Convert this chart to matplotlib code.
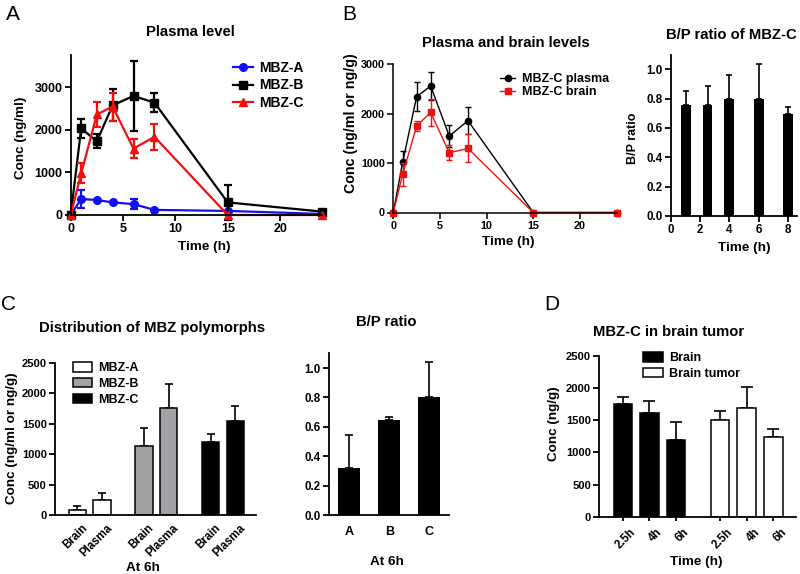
import numpy as np
import matplotlib
matplotlib.use('Agg')
import matplotlib.pyplot as plt
import matplotlib.transforms as mtrans
from matplotlib.patches import Patch

plt.rcParams['font.family'] = ['Liberation Sans', 'DejaVu Sans']
plt.rcParams['font.weight'] = 'bold'
plt.rcParams['axes.labelweight'] = 'bold'
plt.rcParams['axes.titleweight'] = 'bold'

# --- A: plasma level of the three polymorphs
time_a = [0, 1, 2.5, 4, 6, 8, 15, 24]
mbz_a = [0, 376, 352, 296, 256, 120, 96, 25]
mbz_a_sd = [0, 200, 0, 0, 110, 0, 0, 0]
mbz_b = [0, 2033, 1733, 2577, 2797, 2640, 296, 80]
mbz_b_sd = [0, 213, 170, 378, 820, 225, 416, 0]
mbz_c = [0, 976, 2364, 2546, 1560, 1837, 0, 0]
mbz_c_sd = [0, 235, 300, 330, 225, 310, 0, 0]

# --- B: MBZ-C plasma vs brain
time_b = [0, 1, 2.5, 4, 6, 8, 15, 24]
plasma_b = [0, 1014, 2345, 2561, 1547, 1858, 0, 0]
plasma_b_sd = [0, 229, 300, 290, 223, 277, 0, 0]
brain_b = [0, 770, 1750, 2027, 1209, 1297, 0, 0]
brain_b_sd = [0, 230, 100, 275, 150, 283, 0, 0]

bp_time = [1, 2.5, 4, 6, 8]
bp_ratio = [0.757, 0.757, 0.798, 0.798, 0.695]
bp_sd = [0.095, 0.132, 0.161, 0.236, 0.05]

# --- C: distribution at 6h
dist_labels = ['Brain', 'Plasma']
dist_a = [82, 246]
dist_a_sd = [66, 110]
dist_b = [1138, 1750]
dist_b_sd = [295, 400]
dist_c = [1193, 1548]
dist_c_sd = [142, 241]

ratio_labels = ['A', 'B', 'C']
ratio_6h = [0.3235, 0.649, 0.805]
ratio_6h_sd = [0.2215, 0.021, 0.233]

# --- D: brain tumor
tumor_labels = ['2.5h', '4h', '6h']
brain_d = [1753, 1618, 1198]
brain_d_sd = [104, 182, 280]
tumor_d = [1504, 1696, 1234]
tumor_d_sd = [145, 327, 130]

W, H = 800, 574


def rect(left, top, right, bottom):
    return [left / W, 1 - bottom / H, (right - left) / W, (bottom - top) / H]


def fxy(x, y):
    return (x / W, 1 - y / H)


def style_axes(ax, tick_size=8.5, lw=1.3):
    for s in ['top', 'right']:
        ax.spines[s].set_visible(False)
    for s in ['left', 'bottom']:
        ax.spines[s].set_linewidth(lw)
    ax.tick_params(direction='out', length=4, width=lw, labelsize=tick_size, pad=2)


def place_labels(ax, xlabel, xl_pos, ylabel, yl_pos, size=9.7, ysize=None):
    ax.set_xlabel(xlabel, fontsize=size)
    ax.set_ylabel(ylabel, fontsize=ysize or size)
    ax.xaxis.set_label_coords(*fxy(*xl_pos), transform=fig.transFigure)
    ax.yaxis.set_label_coords(*fxy(*yl_pos), transform=fig.transFigure)
    ax.xaxis.label.set_va('center')
    ax.yaxis.label.set_va('center')


def shift_ticklabels(ax, dx_px):
    off = mtrans.ScaledTranslation(dx_px / 100, 0, fig.dpi_scale_trans)
    for lab in ax.get_xticklabels():
        lab.set_transform(lab.get_transform() + off)


def line_with_err(ax, x, y, sd, color, marker, ms, lw, cap, label):
    x = np.array(x)
    y = np.array(y)
    sd = np.array(sd)
    m = sd > 0
    ax.errorbar(x[m], y[m], yerr=sd[m], fmt='none', ecolor=color, elinewidth=lw,
                capsize=cap, capthick=lw, clip_on=False)
    ax.plot(x, y, color=color, marker=marker, ms=ms, lw=lw, label=label, clip_on=False)


def up_err(ax, x, y, sd, cap, lw=1.2):
    ax.errorbar(x, y, yerr=[np.zeros(len(sd)), sd], fmt='none', ecolor='black',
                elinewidth=lw, capsize=cap, capthick=lw, zorder=1)


fig = plt.figure(figsize=(8, 5.74), dpi=100)

# ---------------- Panel A
ax = fig.add_axes(rect(70.7, 55, 322, 215))
line_with_err(ax, time_a, mbz_a, mbz_a_sd, '#1010f0', 'o', 5.5, 1.6, 3, 'MBZ-A')
line_with_err(ax, time_a, mbz_b, mbz_b_sd, 'black', 's', 5.5, 1.6, 3, 'MBZ-B')
line_with_err(ax, time_a, mbz_c, mbz_c_sd, '#f01010', '^', 5.5, 1.6, 3, 'MBZ-C')
ax.set_xlim(0, 24)
ax.set_ylim(0, 3760)
ax.set_xticks([0, 5, 10, 15, 20])
ax.set_yticks([0, 1000, 2000, 3000])
style_axes(ax, 9)
place_labels(ax, 'Time (h)', (204, 247), 'Conc (ng/ml)', (21, 138))
ax.legend(loc='upper left', bbox_to_anchor=fxy(233, 61), bbox_transform=fig.transFigure,
          frameon=False, borderpad=0, borderaxespad=0, handlelength=1.45,
          handletextpad=0.4, labelspacing=0.25, fontsize=10)
fig.text(*fxy(190, 32), 'Plasma level', ha='center', va='center', fontsize=10.7)

# ---------------- Panel B left
ax = fig.add_axes(rect(393.3, 64.3, 617.3, 212.5))
line_with_err(ax, time_b, plasma_b, plasma_b_sd, 'black', 'o', 4.5, 1.0, 2.5, 'MBZ-C plasma')
line_with_err(ax, time_b, brain_b, brain_b_sd, '#f01010', 's', 4.5, 1.0, 2.5, 'MBZ-C brain')
ax.set_xlim(0, 24)
ax.set_ylim(0, 3000)
ax.set_xticks([0, 5, 10, 15, 20])
ax.set_yticks([0, 1000, 2000, 3000])
style_axes(ax, 7.8, 1.1)
place_labels(ax, 'Time (h)', (508, 242), 'Conc (ng/ml or ng/g)', (351, 123), ysize=10.3)
ax.legend(loc='upper left', bbox_to_anchor=fxy(500, 73), bbox_transform=fig.transFigure,
          frameon=False, borderpad=0, borderaxespad=0, handlelength=1.2,
          handletextpad=0.6, labelspacing=0.1, fontsize=9)
fig.text(*fxy(506, 43), 'Plasma and brain levels', ha='center', va='center', fontsize=10.7)

# ---------------- Panel B right
ax = fig.add_axes(rect(671, 55, 797, 216))
ax.bar(bp_time, bp_ratio, width=0.68, color='black', zorder=2)
up_err(ax, bp_time, bp_ratio, bp_sd, 2.5)
ax.set_xlim(0, 8.63)
ax.set_ylim(0, 1.097)
ax.set_xticks([0, 2, 4, 6, 8])
ax.set_yticks([0, 0.2, 0.4, 0.6, 0.8, 1.0])
ax.set_yticklabels(['0.0', '0.2', '0.4', '0.6', '0.8', '1.0'])
style_axes(ax, 8.3)
place_labels(ax, 'Time (h)', (744, 248), 'B/P ratio', (633, 138), ysize=9)
fig.text(*fxy(731, 35), 'B/P ratio of MBZ-C', ha='center', va='center', fontsize=10.7)

# ---------------- Panel C left
ax = fig.add_axes(rect(55, 362.7, 256, 515))
pos = [0, 1, 2.7, 3.7, 5.4, 6.4]
groups = [(dist_a, dist_a_sd, 'white', 'MBZ-A'),
          (dist_b, dist_b_sd, '#a2a2a6', 'MBZ-B'),
          (dist_c, dist_c_sd, 'black', 'MBZ-C')]
handles = []
for i, (vals, sd, col, lab) in enumerate(groups):
    p = pos[2 * i:2 * i + 2]
    ax.bar(p, vals, width=0.69, color=col, edgecolor='black', linewidth=1.1, zorder=2)
    up_err(ax, p, vals, sd, 3)
    handles.append(Patch(facecolor=col, edgecolor='black', linewidth=1.1, label=lab))
ax.set_xlim(-0.9, 7.23)
ax.set_ylim(0, 2500)
ax.set_yticks([0, 500, 1000, 1500, 2000, 2500])
ax.set_xticks(pos)
ax.set_xticklabels(dist_labels * 3, rotation=45, ha='right', rotation_mode='anchor')
style_axes(ax, 8)
ax.tick_params(axis='x', length=0, pad=5, labelsize=8.3)
shift_ticklabels(ax, 4)
place_labels(ax, 'At 6h', (143, 568), 'Conc (ng/ml or ng/g)', (12.5, 438))
ax.legend(handles=handles, loc='upper left', bbox_to_anchor=fxy(73, 362), bbox_transform=fig.transFigure,
          frameon=False, borderpad=0, borderaxespad=0, handlelength=1.5, handleheight=0.8,
          handletextpad=0.5, labelspacing=0.3, fontsize=9)
fig.text(*fxy(152.5, 328), 'Distribution of MBZ polymorphs', ha='center', va='center', fontsize=10.7)

# ---------------- Panel C right
ax = fig.add_axes(rect(329.3, 352.7, 449.3, 515.3))
rpos = [1, 2, 3]
ax.bar(rpos, ratio_6h, width=0.55, color='black', zorder=2)
up_err(ax, rpos, ratio_6h, ratio_6h_sd, 3)
ax.set_xlim(0.5, 3.5)
ax.set_ylim(0, 1.104)
ax.set_xticks(rpos)
ax.set_xticklabels(ratio_labels)
ax.set_yticks([0, 0.2, 0.4, 0.6, 0.8, 1.0])
ax.set_yticklabels(['0.0', '0.2', '0.4', '0.6', '0.8', '1.0'])
style_axes(ax, 8.3)
ax.tick_params(axis='x', length=0, pad=8, labelsize=9)
place_labels(ax, 'At 6h', (386.7, 562), '', (300, 430))
fig.text(*fxy(386, 322), 'B/P ratio', ha='center', va='center', fontsize=10.7)

# ---------------- Panel D
ax = fig.add_axes(rect(599.3, 356, 796, 516.7))
bpos = [0, 1, 2]
tpos = [3.65, 4.65, 5.65]
ax.bar(bpos, brain_d, width=0.69, color='black', edgecolor='black', linewidth=1.1, zorder=2, label='Brain')
ax.bar(tpos, tumor_d, width=0.69, color='white', edgecolor='black', linewidth=1.1, zorder=2, label='Brain tumor')
up_err(ax, bpos, brain_d, brain_d_sd, 4.5)
up_err(ax, tpos, tumor_d, tumor_d_sd, 4.5)
ax.set_xlim(-0.88, 6.5)
ax.set_ylim(0, 2500)
ax.set_yticks([0, 500, 1000, 1500, 2000, 2500])
ax.set_xticks(bpos + tpos)
ax.set_xticklabels(tumor_labels * 2, rotation=45, ha='right', rotation_mode='anchor')
style_axes(ax, 8)
ax.tick_params(axis='x', length=3, pad=4, labelsize=8.3)
shift_ticklabels(ax, 7)
place_labels(ax, 'Time (h)', (696.7, 562), 'Conc (ng/g)', (554, 424))
ax.legend(loc='upper left', bbox_to_anchor=fxy(643, 352), bbox_transform=fig.transFigure,
          frameon=False, borderpad=0, borderaxespad=0, handlelength=1.6, handleheight=0.8,
          handletextpad=0.5, labelspacing=0.3, fontsize=9)
fig.text(*fxy(669, 332), 'MBZ-C in brain tumor', ha='center', va='center', fontsize=10.7)

# panel letters
for letter, (x, y) in zip('ABCD', [(13, 15), (349, 15), (9, 305), (552, 305)]):
    fig.text(*fxy(x, y), letter, ha='center', va='center', fontsize=15, fontweight='normal')

fig.savefig('out.png', dpi=100)
